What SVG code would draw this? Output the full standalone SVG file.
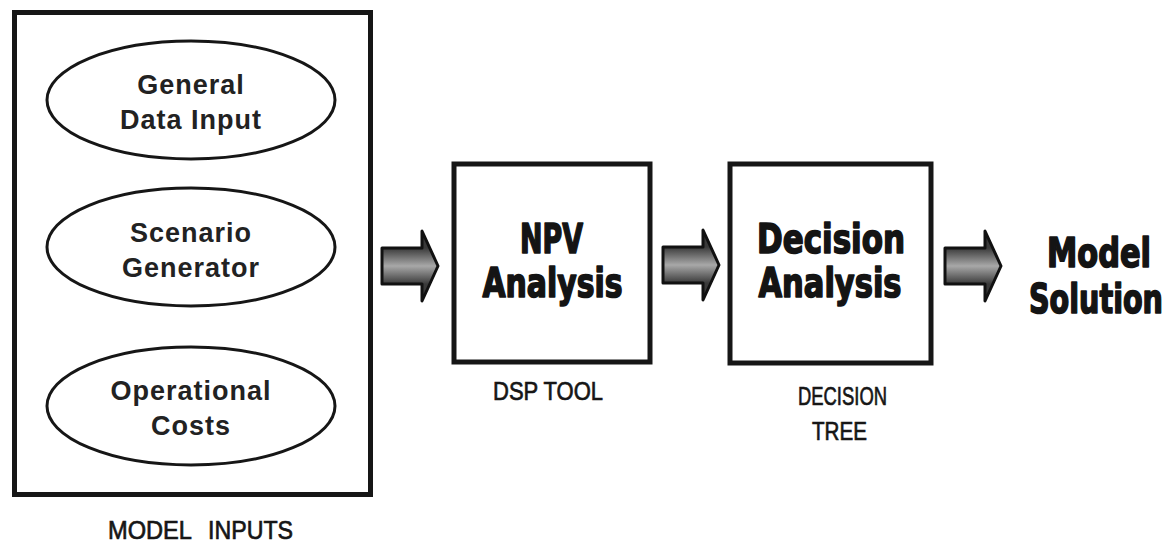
<svg xmlns="http://www.w3.org/2000/svg" width="1174" height="543" viewBox="0 0 1174 543">
  <style>
    .frame { fill: #ffffff; stroke: #161616; stroke-width: 5; }
    .oval { fill: #ffffff; stroke: #161616; stroke-width: 3; }
    .oval-text { font-family: "Liberation Sans", Arial, sans-serif; font-weight: bold; font-size: 27px; fill: #222222; text-anchor: middle; letter-spacing: 1px; }
    .heavy { font-family: "Liberation Sans Narrow", "DejaVu Sans Condensed", "Liberation Sans", sans-serif; font-weight: bold; font-size: 40px; fill: #141414; stroke: #141414; stroke-width: 1.6; stroke-linejoin: round; text-anchor: middle; }
    .caption { font-family: "Liberation Sans", Arial, sans-serif; font-size: 26px; fill: #161616; stroke: #161616; stroke-width: 0.7; text-anchor: middle; }
    .arrow { fill: url(#arrowShade); stroke: #111111; stroke-width: 3; stroke-linejoin: round; }
  </style>
  <defs>
    <linearGradient id="arrowShade" gradientUnits="userSpaceOnUse" x1="0" y1="248" x2="0" y2="284">
      <stop offset="0" stop-color="#3a3a3a"/>
      <stop offset="0.5" stop-color="#a8a8a8"/>
      <stop offset="1" stop-color="#3a3a3a"/>
    </linearGradient>
    <path id="blockArrow" d="M0,248 H40 V231 L56,266 L40,301 V284 H0 Z"/>
  </defs>

  <rect width="1174" height="543" fill="#ffffff"/>

  <!-- Inputs panel with its three ovals -->
  <g id="model-inputs">
    <rect class="frame" x="14.5" y="12.5" width="356" height="482"/>
    <text class="caption" x="150" y="539" textLength="84" lengthAdjust="spacingAndGlyphs">MODEL</text>
    <text class="caption" x="250.5" y="539" textLength="85" lengthAdjust="spacingAndGlyphs">INPUTS</text>
  </g>

  <g id="general-data-input">
    <ellipse class="oval" cx="191" cy="100" rx="144" ry="59"/>
    <text class="oval-text" x="191" y="94">General</text>
    <text class="oval-text" x="191" y="129">Data Input</text>
  </g>

  <g id="scenario-generator">
    <ellipse class="oval" cx="191" cy="247" rx="144" ry="59"/>
    <text class="oval-text" x="191" y="242">Scenario</text>
    <text class="oval-text" x="191" y="277">Generator</text>
  </g>

  <g id="operational-costs">
    <ellipse class="oval" cx="191" cy="406" rx="144" ry="59"/>
    <text class="oval-text" x="191" y="400">Operational</text>
    <text class="oval-text" x="191" y="435">Costs</text>
  </g>

  <!-- NPV analysis step -->
  <g id="npv-analysis">
    <rect class="frame" x="454" y="164" width="196" height="198"/>
    <text class="heavy" x="551.5" y="253" textLength="63" lengthAdjust="spacingAndGlyphs">NPV</text>
    <text class="heavy" x="552.5" y="297" textLength="140" lengthAdjust="spacingAndGlyphs">Analysis</text>
    <text class="caption" x="548" y="400" textLength="110" lengthAdjust="spacingAndGlyphs">DSP TOOL</text>
  </g>

  <!-- Decision analysis step -->
  <g id="decision-analysis">
    <rect class="frame" x="730" y="164" width="201" height="199"/>
    <text class="heavy" x="831" y="253" textLength="148" lengthAdjust="spacingAndGlyphs">Decision</text>
    <text class="heavy" x="830" y="297" textLength="143" lengthAdjust="spacingAndGlyphs">Analysis</text>
    <text class="caption" x="842.5" y="405" textLength="89" lengthAdjust="spacingAndGlyphs">DECISION</text>
    <text class="caption" x="839.5" y="440" textLength="55" lengthAdjust="spacingAndGlyphs">TREE</text>
  </g>

  <!-- Result -->
  <g id="model-solution">
    <text class="heavy" x="1099" y="267" textLength="104" lengthAdjust="spacingAndGlyphs">Model</text>
    <text class="heavy" x="1096" y="313" textLength="134" lengthAdjust="spacingAndGlyphs">Solution</text>
  </g>

  <!-- Flow arrows between stages -->
  <g id="connectors">
    <use class="arrow" href="#blockArrow" transform="translate(382,0)"/>
    <use class="arrow" href="#blockArrow" transform="translate(663,-1)"/>
    <use class="arrow" href="#blockArrow" transform="translate(945,0)"/>
  </g>
</svg>
